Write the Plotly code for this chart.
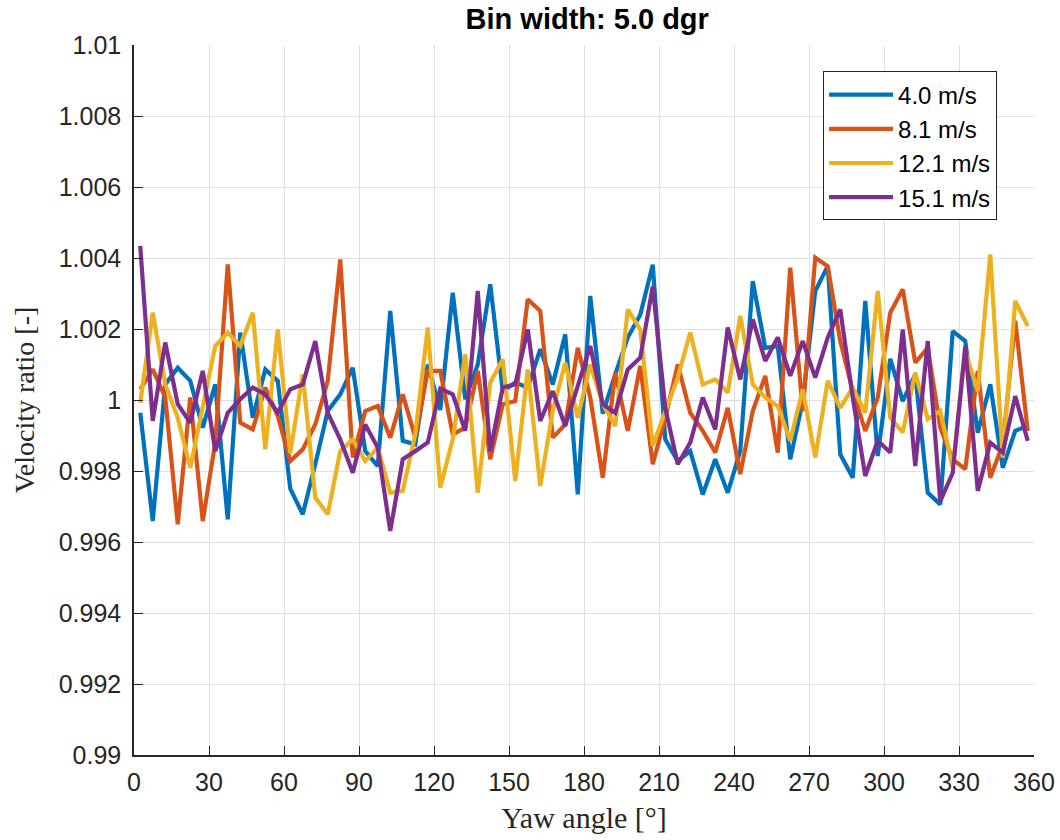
import plotly.graph_objects as go

yaw = [2.5 + 5 * k for k in range(72)]

v_4_0 = [0.99964, 0.99659, 1.00044, 1.00091, 1.00054, 0.99922, 1.00044, 0.99664, 1.0019, 0.9995,
         1.00086, 1.00054, 0.99750, 0.99678, 0.99819, 0.99969, 1.00016, 1.00091, 0.99856, 0.99814,
         1.00251, 0.99885, 0.99875, 1.00100, 0.99972, 1.00302, 1.00002, 1.00100, 1.00326, 1.00025,
         1.00049, 1.00035, 1.00143, 1.00044, 1.00185, 0.99734, 1.00293, 0.99962, 1.00072, 1.00176,
         1.00240, 1.00381, 0.99889, 0.99828, 0.99856, 0.99734, 0.99833, 0.99739, 0.99856, 1.00335,
         1.00147, 1.00152, 0.99833, 0.99997, 1.00307, 1.00377, 0.99847, 0.99781, 1.00279, 0.99842,
         1.00116, 0.99997, 1.00072, 0.99739, 0.99706, 1.00194, 1.00166, 0.99908, 1.00044, 0.99809,
         0.99913, 0.99927]

v_8_1 = [1.00030, 1.00086, 1.00007, 0.99650, 1.00007, 0.99659, 0.99880, 1.00382, 0.99936, 0.99917,
         1.00035, 0.99955, 0.99828, 0.99861, 0.99931, 1.00054, 1.00396, 0.99838, 0.99969, 0.99983,
         0.99894, 1.00016, 0.99894, 1.00082, 1.00082, 0.99903, 0.99922, 1.00082, 0.99833, 0.99988,
         0.99997, 1.00284, 1.00251, 0.99894, 0.99931, 1.00147, 1.00007, 0.99781, 1.00077, 0.99913,
         1.00096, 0.99819, 0.99950, 1.00100, 0.99964, 0.99913, 0.99852, 0.99978, 0.99791, 0.99969,
         1.00068, 0.99852, 1.00373, 0.99969, 1.00401, 1.00377, 1.00166, 1.00025, 0.99913, 1.00007,
         1.00246, 1.00312, 1.00105, 1.00147, 0.99922, 0.99833, 0.99805, 1.00082, 0.99781, 0.99875,
         1.00223, 0.99913]

v_12_1 = [0.99992, 1.00246, 1.00044, 0.99950, 0.99809, 0.99978, 1.00152, 1.00190, 1.00152, 1.00246,
          0.99861, 1.00199, 0.99850, 1.00072, 0.99725, 0.99678, 0.99856, 0.99889, 0.99828, 0.99866,
          0.99739, 0.99744, 0.99903, 1.00204, 0.99753, 0.99889, 1.00129, 0.99739, 1.00049, 1.00115,
          0.99772, 1.00086, 0.99758, 0.99969, 1.00105, 0.99950, 1.00100, 0.99988, 0.99927, 1.00255,
          1.00199, 0.99871, 0.99969, 1.00063, 1.00190, 1.00044, 1.00058, 1.00021, 1.00237, 1.00044,
          1.00007, 0.99983, 0.99885, 1.00030, 0.99838, 1.00054, 0.99978, 1.00035, 0.99964, 1.00307,
          0.99950, 0.99909, 1.00077, 0.99946, 0.99969, 0.99809, 1.00138, 1.00025, 1.00410, 0.99838,
          1.00279, 1.00208]

v_15_1 = [1.00434, 0.99941, 1.00162, 0.99988, 0.99936, 1.00082, 0.99856, 0.99964, 1.00002, 1.00035,
          1.00016, 0.99964, 1.00030, 1.00044, 1.00166, 0.99964, 0.99889, 0.99795, 0.99931, 0.99866,
          0.99631, 0.99833, 0.99856, 0.99880, 1.00032, 1.00016, 0.99913, 1.00307, 0.99856, 1.00035,
          1.00044, 1.00199, 0.99941, 1.00025, 0.99927, 1.00044, 1.00152, 0.99988, 0.99964, 1.00086,
          1.00119, 1.00320, 0.99978, 0.99819, 0.99880, 1.00007, 0.99917, 1.00204, 1.00058, 1.00227,
          1.00110, 1.00176, 1.00068, 1.00166, 1.00063, 1.00176, 1.00255, 1.00007, 0.99786, 0.99885,
          0.99852, 1.00199, 0.99814, 1.00166, 0.99715, 0.99795, 1.00152, 0.99744, 0.99880, 0.99852,
          1.00011, 0.99885]

series_names = ["4.0 m/s", "8.1 m/s", "12.1 m/s", "15.1 m/s"]
series_values = [v_4_0, v_8_1, v_12_1, v_15_1]
colors = ["#0072BD", "#D95319", "#EDB120", "#7E2F8E"]

x_ticks = list(range(0, 361, 30))
y_tickvals = [0.99, 0.992, 0.994, 0.996, 0.998, 1.0, 1.002, 1.004, 1.006, 1.008, 1.01]
y_ticktext = ["0.99", "0.992", "0.994", "0.996", "0.998", "1", "1.002", "1.004", "1.006", "1.008", "1.01"]

fig = go.Figure()
for i, (name, vals, c) in enumerate(zip(series_names, series_values, colors)):
    fig.add_trace(go.Scatter(x=yaw, y=vals, mode="lines", name=name,
                             line=dict(color=c, width=4.2), legendgroup=f"g{i}"))

sans = "Liberation Sans, Arial, Helvetica, sans-serif"
serif = "Liberation Serif, Times New Roman, serif"
axis_font = dict(family=sans, size=25, color="#262626")
fig.update_layout(
    width=1060, height=840,
    margin=dict(l=134, r=26, t=45, b=85),
    paper_bgcolor="white", plot_bgcolor="white",
    title=dict(text="<b>Bin width: 5.0 dgr</b>", x=0.554, xanchor="center", y=0.977, yanchor="middle",
               font=dict(family=sans, size=29, color="black")),
    showlegend=True,
    legend=dict(x=0.7656, y=0.9627, xanchor="left", yanchor="top",
                bgcolor="white", bordercolor="#262626", borderwidth=1,
                font=dict(family=sans, size=24, color="black"),
                tracegroupgap=0, itemwidth=64),
    xaxis=dict(range=[0, 360], tickvals=x_ticks, showgrid=True, gridcolor="#e0e0e0", gridwidth=1,
               showline=True, linecolor="#262626", linewidth=1.5, ticks="inside", ticklen=9,
               tickcolor="#262626", tickfont=axis_font, zeroline=False, automargin=False,
               ticklabelstandoff=4,
               title=dict(text="Yaw angle [°]", standoff=12,
                          font=dict(family=serif, size=30, color="#262626"))),
    yaxis=dict(range=[0.99, 1.01], tickvals=y_tickvals, ticktext=y_ticktext, showgrid=True,
               gridcolor="#e0e0e0", gridwidth=1, showline=True, linecolor="#262626", linewidth=1.5,
               ticks="inside", ticklen=9, tickcolor="#262626", tickfont=axis_font, zeroline=False,
               automargin=False, ticklabelstandoff=6,
               title=dict(text="Velocity ratio [-]", standoff=16,
                          font=dict(family=serif, size=28, color="#262626"))),
)

fig.write_html("out.html")
